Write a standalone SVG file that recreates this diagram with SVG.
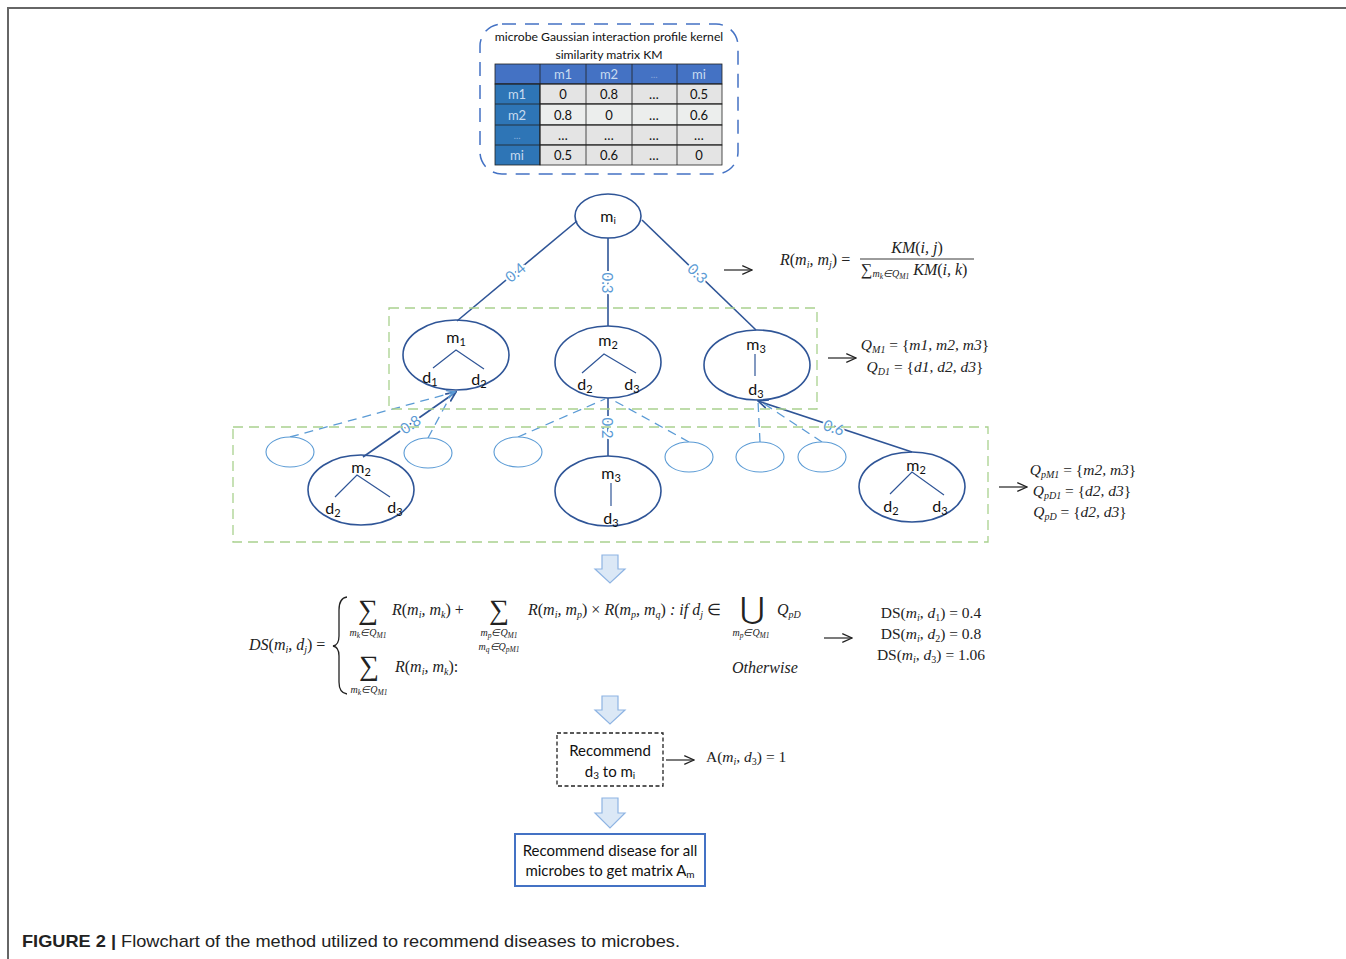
<svg xmlns="http://www.w3.org/2000/svg" width="1346" height="959" viewBox="0 0 1346 959">
<defs>
<style>
.s{font-family:Lato,"Liberation Sans",sans-serif;fill:#111}
.m{font-family:"Liberation Serif",serif;font-style:italic;fill:#222}
.r{font-family:"Liberation Serif",serif;font-style:normal;fill:#222}
.big{fill:none;stroke:#2f5597;stroke-width:1.6}
.sm{fill:#fff;stroke:#5b9bd5;stroke-width:1.1}
.e{stroke:#2f5597;stroke-width:1.6;fill:none}
.d{stroke:#5b9bd5;stroke-width:1.3;stroke-dasharray:9 6;fill:none}
.g{fill:none;stroke:#a9d18e;stroke-width:1.3;stroke-dasharray:10 6}
.lbl{font-family:Lato,"Liberation Sans",sans-serif;fill:#5b9bd5;font-size:15px;stroke:#fff;stroke-width:4;paint-order:stroke;dominant-baseline:central}
.tl{fill:none;stroke:#2f5597;stroke-width:1.2}
.cell{stroke:#222;stroke-width:0.8}
.ar{fill:none;stroke:#222;stroke-width:1.2}
.blk{fill:#dbe8f6;stroke:#8eb4e3;stroke-width:1.2}
.nt{font-size:16px}
</style>
<marker id="ah" viewBox="0 0 10 10" refX="9" refY="5" markerWidth="7" markerHeight="7" orient="auto"><path d="M0,1 L9,5 L0,9" fill="none" stroke="#5b9bd5" stroke-width="1.5"/></marker>
<marker id="ahd" viewBox="0 0 10 10" refX="9" refY="5" markerWidth="7" markerHeight="7" orient="auto"><path d="M0,1 L9,5 L0,9" fill="none" stroke="#2f5597" stroke-width="1.5"/></marker>
<marker id="blk" viewBox="0 0 10 10" refX="9" refY="5" markerWidth="9" markerHeight="9" orient="auto"><path d="M0,1 L9,5 L0,9" fill="none" stroke="#222" stroke-width="1.2"/></marker>
</defs>
<rect width="1346" height="959" fill="#fff"/>
<path d="M8,959 V8 H1346" fill="none" stroke="#666" stroke-width="2"/>

<g id="kmtable">
<rect x="480" y="24" width="258" height="150" rx="22" fill="none" stroke="#4472c4" stroke-width="1.5" stroke-dasharray="14 9"/>
<text class="s" x="609" y="41" font-size="12.2" text-anchor="middle">microbe Gaussian interaction profile kernel</text>
<text class="s" x="609" y="59" font-size="12.2" text-anchor="middle">similarity matrix KM</text>
<rect class="cell" x="495" y="64" width="227" height="20" fill="#4472c4"/>
<rect class="cell" x="495" y="84" width="45" height="81" fill="#2e75b6"/>
<rect class="cell" x="540" y="84" width="182" height="20" fill="#e4e4e4"/>
<rect class="cell" x="540" y="104" width="182" height="21" fill="#eceeed"/>
<rect class="cell" x="540" y="125" width="182" height="20" fill="#e4e4e4"/>
<rect class="cell" x="540" y="145" width="182" height="20" fill="#e4e4e4"/>
<path class="cell" d="M495,84H722M495,104H722M495,125H722M495,145H722M540,64V165M586,64V165M632,64V165M677,64V165" fill="none"/>
<g class="s" font-size="13" text-anchor="middle">
<text x="563" y="79" fill="#c9dcf0">m1</text><text x="609" y="79" fill="#c9dcf0">m2</text><text x="654" y="78" fill="#8faadc" font-size="9">…</text><text x="699" y="79" fill="#c9dcf0">mi</text>
<text x="517" y="99" fill="#c9dcf0">m1</text><text x="517" y="120" fill="#c9dcf0">m2</text><text x="517" y="139" fill="#8fb4e0" font-size="9">…</text><text x="517" y="160" fill="#c9dcf0">mi</text>
<text x="563" y="99">0</text><text x="609" y="99">0.8</text><text x="654" y="99">…</text><text x="699" y="99">0.5</text>
<text x="563" y="120">0.8</text><text x="609" y="120">0</text><text x="654" y="120">…</text><text x="699" y="120">0.6</text>
<text x="563" y="140">…</text><text x="609" y="140">…</text><text x="654" y="140">…</text><text x="699" y="140">…</text>
<text x="563" y="160">0.5</text><text x="609" y="160">0.6</text><text x="654" y="160">…</text><text x="699" y="160">0</text>
</g>
</g>

<g id="connectors">
<line class="e" x1="577" y1="221" x2="457" y2="321"/>
<line class="e" x1="608" y1="238" x2="608" y2="326"/>
<line class="e" x1="642" y1="220" x2="756" y2="330"/>
<line class="e" x1="363" y1="457" x2="456" y2="392" marker-end="url(#ahd)"/>
<line class="e" x1="608" y1="456" x2="608" y2="398"/>
<line class="e" x1="912" y1="452" x2="758" y2="401" marker-end="url(#ahd)"/>
<line class="d" x1="290" y1="437" x2="455" y2="392" marker-end="url(#ah)"/>
<line class="d" x1="428" y1="438" x2="452" y2="393"/>
<line class="d" x1="518" y1="437" x2="605" y2="399"/>
<line class="d" x1="689" y1="442" x2="611" y2="399"/>
<line class="d" x1="760" y1="442" x2="758" y2="401"/>
<line class="d" x1="822" y1="442" x2="760" y2="401"/>
<text class="lbl" transform="translate(515,272) rotate(-40)" text-anchor="middle">0.4</text>
<text class="lbl" transform="translate(608,283) rotate(90)" text-anchor="middle">0.3</text>
<text class="lbl" transform="translate(698,273) rotate(44)" text-anchor="middle">0.3</text>
<text class="lbl" transform="translate(410,424) rotate(-35)" text-anchor="middle">0.8</text>
<text class="lbl" transform="translate(608,428) rotate(90)" text-anchor="middle">0.2</text>
<text class="lbl" transform="translate(834,427) rotate(18)" text-anchor="middle">0.6</text>
</g>

<rect class="g" x="389" y="308" width="428" height="101"/>
<rect class="g" x="233" y="427" width="755" height="115"/>

<g id="mi"><ellipse class="big" cx="608" cy="216" rx="33" ry="22" fill="#fff"/>
<text class="s nt" x="608" y="222" text-anchor="middle">m<tspan font-size="10" dy="2">i</tspan></text></g>

<g id="m1"><ellipse class="big" cx="456" cy="355" rx="53" ry="35"/>
<text class="s nt" x="456" y="343" text-anchor="middle">m<tspan font-size="11" dy="3">1</tspan></text>
<path class="tl" d="M433,368 L456,350 L484,369"/>
<text class="s nt" x="430" y="383" text-anchor="middle">d<tspan font-size="11" dy="3">1</tspan></text>
<text class="s nt" x="479" y="385" text-anchor="middle">d<tspan font-size="11" dy="3">2</tspan></text></g>

<g id="m2"><ellipse class="big" cx="608" cy="362" rx="53" ry="36"/>
<text class="s nt" x="608" y="346" text-anchor="middle">m<tspan font-size="11" dy="3">2</tspan></text>
<path class="tl" d="M582,373 L604,354 L636,373"/>
<text class="s nt" x="585" y="390" text-anchor="middle">d<tspan font-size="11" dy="3">2</tspan></text>
<text class="s nt" x="632" y="390" text-anchor="middle">d<tspan font-size="11" dy="3">3</tspan></text></g>

<g id="m3"><ellipse class="big" cx="757" cy="365" rx="53" ry="35"/>
<text class="s nt" x="756" y="350" text-anchor="middle">m<tspan font-size="11" dy="3">3</tspan></text>
<line class="tl" x1="755" y1="354" x2="755" y2="376"/>
<text class="s nt" x="756" y="395" text-anchor="middle">d<tspan font-size="11" dy="3">3</tspan></text></g>

<g id="small1"><ellipse class="sm" cx="290" cy="452" rx="24" ry="15"/></g>
<g id="small2"><ellipse class="sm" cx="428" cy="453" rx="24" ry="15"/></g>
<g id="small3"><ellipse class="sm" cx="518" cy="452" rx="24" ry="15"/></g>
<g id="small4"><ellipse class="sm" cx="689" cy="457" rx="24" ry="15"/></g>
<g id="small5"><ellipse class="sm" cx="760" cy="457" rx="24" ry="15"/></g>
<g id="small6"><ellipse class="sm" cx="822" cy="457" rx="24" ry="15"/></g>

<g id="m2left"><ellipse class="big" cx="361" cy="490" rx="53" ry="35"/>
<text class="s nt" x="361" y="473" text-anchor="middle">m<tspan font-size="11" dy="3">2</tspan></text>
<path class="tl" d="M335,497 L357,475 L390,497"/>
<text class="s nt" x="333" y="514" text-anchor="middle">d<tspan font-size="11" dy="3">2</tspan></text>
<text class="s nt" x="395" y="513" text-anchor="middle">d<tspan font-size="11" dy="3">3</tspan></text></g>

<g id="m3mid"><ellipse class="big" cx="608" cy="491" rx="53" ry="35"/>
<text class="s nt" x="611" y="479" text-anchor="middle">m<tspan font-size="11" dy="3">3</tspan></text>
<line class="tl" x1="611" y1="483" x2="611" y2="506"/>
<text class="s nt" x="611" y="524" text-anchor="middle">d<tspan font-size="11" dy="3">3</tspan></text></g>

<g id="m2right"><ellipse class="big" cx="912" cy="487" rx="53" ry="35"/>
<text class="s nt" x="916" y="471" text-anchor="middle">m<tspan font-size="11" dy="3">2</tspan></text>
<path class="tl" d="M890,494 L912,472 L944,495"/>
<text class="s nt" x="891" y="512" text-anchor="middle">d<tspan font-size="11" dy="3">2</tspan></text>
<text class="s nt" x="940" y="512" text-anchor="middle">d<tspan font-size="11" dy="3">3</tspan></text></g>

<g id="rarrows">
<line class="ar" x1="724" y1="270" x2="752" y2="270" marker-end="url(#blk)"/>
<line class="ar" x1="828" y1="358" x2="856" y2="358" marker-end="url(#blk)"/>
<line class="ar" x1="999" y1="487" x2="1027" y2="487" marker-end="url(#blk)"/>
<line class="ar" x1="824" y1="638" x2="852" y2="638" marker-end="url(#blk)"/>
<line class="ar" x1="666" y1="760" x2="694" y2="760" marker-end="url(#blk)"/>
</g>

<g id="formulaR" font-size="16">
<text class="m" x="780" y="265">R<tspan class="r">(</tspan>m<tspan font-size="10" dy="3">i</tspan><tspan dy="-3">, m</tspan><tspan font-size="10" dy="3">j</tspan><tspan class="r" dy="-3">) =</tspan></text>
<line x1="860" y1="259" x2="974" y2="259" stroke="#222" stroke-width="0.9"/>
<text class="m" x="917" y="253" text-anchor="middle">KM<tspan class="r">(</tspan>i, j<tspan class="r">)</tspan></text>
<text class="m" x="861" y="275"><tspan class="r">∑</tspan><tspan font-size="10" dy="2">m</tspan><tspan font-size="7.5" dy="2">k</tspan><tspan font-size="10" dy="-2">∈Q</tspan><tspan font-size="7.5" dy="2">M1</tspan><tspan dy="-4"> KM</tspan><tspan class="r">(</tspan>i, k<tspan class="r">)</tspan></text>
</g>

<g id="setsQ" font-size="15.5" text-anchor="middle">
<text class="m" x="925" y="350">Q<tspan font-size="10" dy="3">M1</tspan><tspan class="r" dy="-3"> = {</tspan>m1, m2, m3<tspan class="r">}</tspan></text>
<text class="m" x="925" y="372">Q<tspan font-size="10" dy="3">D1</tspan><tspan class="r" dy="-3"> = {</tspan>d1, d2, d3<tspan class="r">}</tspan></text>
</g>

<g id="setsP" font-size="15.5" text-anchor="middle">
<text class="m" x="1083" y="475">Q<tspan font-size="10" dy="3">pM1</tspan><tspan class="r" dy="-3"> = {</tspan>m2, m3<tspan class="r">}</tspan></text>
<text class="m" x="1082" y="496">Q<tspan font-size="10" dy="3">pD1</tspan><tspan class="r" dy="-3"> = {</tspan>d2, d3<tspan class="r">}</tspan></text>
<text class="m" x="1080" y="517">Q<tspan font-size="10" dy="3">pD</tspan><tspan class="r" dy="-3"> = {</tspan>d2, d3<tspan class="r">}</tspan></text>
</g>

<g id="blockarrows">
<path class="blk" d="M602,555 H618 V569 H625 L610,583 L595,569 H602 Z"/>
<path class="blk" d="M602,696 H618 V710 H625 L610,724 L595,710 H602 Z"/>
<path class="blk" d="M602,798 H618 V813 H625 L610,828 L595,813 H602 Z"/>
</g>

<g id="formulaDS" font-size="16">
<text class="m" x="249" y="650">DS<tspan class="r">(</tspan>m<tspan font-size="10" dy="3">i</tspan><tspan dy="-3">, d</tspan><tspan font-size="10" dy="3">j</tspan><tspan class="r" dy="-3">) =</tspan></text>
<path d="M347,597 Q339,598 339,610 V636 Q339,645 333,646 Q339,647 339,656 V682 Q339,693 347,694" fill="none" stroke="#222" stroke-width="1.3"/>
<text class="r" x="368" y="619" font-size="28" text-anchor="middle">∑</text>
<text class="m" x="368" y="636" font-size="10" text-anchor="middle">m<tspan font-size="7.5" dy="2">k</tspan><tspan dy="-2">∈Q</tspan><tspan font-size="7.5" dy="2">M1</tspan></text>
<text class="m" x="392" y="615">R<tspan class="r">(</tspan>m<tspan font-size="10" dy="3">i</tspan><tspan dy="-3">, m</tspan><tspan font-size="10" dy="3">k</tspan><tspan class="r" dy="-3">) +</tspan></text>
<text class="r" x="499" y="619" font-size="28" text-anchor="middle">∑</text>
<text class="m" x="499" y="636" font-size="10" text-anchor="middle">m<tspan font-size="7.5" dy="2">p</tspan><tspan dy="-2">∈Q</tspan><tspan font-size="7.5" dy="2">M1</tspan></text>
<text class="m" x="499" y="650" font-size="10" text-anchor="middle">m<tspan font-size="7.5" dy="2">q</tspan><tspan dy="-2">∈Q</tspan><tspan font-size="7.5" dy="2">pM1</tspan></text>
<text class="m" x="528" y="615">R<tspan class="r">(</tspan>m<tspan font-size="10" dy="3">i</tspan><tspan dy="-3">, m</tspan><tspan font-size="10" dy="3">p</tspan><tspan class="r" dy="-3">) × </tspan>R<tspan class="r">(</tspan>m<tspan font-size="10" dy="3">p</tspan><tspan dy="-3">, m</tspan><tspan font-size="10" dy="3">q</tspan><tspan class="r" dy="-3">)</tspan> : if d<tspan font-size="10" dy="3">j</tspan><tspan class="r" dy="-3"> ∈</tspan></text>
<text class="r" x="752" y="619" font-size="30" text-anchor="middle">⋃</text>
<text class="m" x="751" y="636" font-size="10" text-anchor="middle">m<tspan font-size="7.5" dy="2">p</tspan><tspan dy="-2">∈Q</tspan><tspan font-size="7.5" dy="2">M1</tspan></text>
<text class="m" x="777" y="615">Q<tspan font-size="10" dy="3">pD</tspan></text>
<text class="r" x="369" y="675" font-size="28" text-anchor="middle">∑</text>
<text class="m" x="369" y="693" font-size="10" text-anchor="middle">m<tspan font-size="7.5" dy="2">k</tspan><tspan dy="-2">∈Q</tspan><tspan font-size="7.5" dy="2">M1</tspan></text>
<text class="m" x="395" y="672">R<tspan class="r">(</tspan>m<tspan font-size="10" dy="3">i</tspan><tspan dy="-3">, m</tspan><tspan font-size="10" dy="3">k</tspan><tspan class="r" dy="-3">):</tspan></text>
<text class="m" x="732" y="673">Otherwise</text>
</g>

<g id="dsresults" font-size="15.5" text-anchor="middle">
<text class="r" x="931" y="618">DS(<tspan class="m">m</tspan><tspan class="m" font-size="10" dy="3">i</tspan><tspan dy="-3">, </tspan><tspan class="m">d</tspan><tspan font-size="10" dy="3">1</tspan><tspan dy="-3">) = 0.4</tspan></text>
<text class="r" x="931" y="639">DS(<tspan class="m">m</tspan><tspan class="m" font-size="10" dy="3">i</tspan><tspan dy="-3">, </tspan><tspan class="m">d</tspan><tspan font-size="10" dy="3">2</tspan><tspan dy="-3">) = 0.8</tspan></text>
<text class="r" x="931" y="660">DS(<tspan class="m">m</tspan><tspan class="m" font-size="10" dy="3">i</tspan><tspan dy="-3">, </tspan><tspan class="m">d</tspan><tspan font-size="10" dy="3">3</tspan><tspan dy="-3">) = 1.06</tspan></text>
</g>

<g id="recommend">
<rect x="557" y="733" width="106" height="53" fill="#fff" stroke="#222" stroke-width="1.3" stroke-dasharray="4 2.5"/>
<text class="s" x="610" y="756" font-size="15" text-anchor="middle">Recommend</text>
<text class="s" x="610" y="777" font-size="15" text-anchor="middle">d<tspan font-size="10" dy="2">3</tspan><tspan dy="-2"> to m</tspan><tspan font-size="10" dy="2">i</tspan></text>
</g>
<text class="r" x="706" y="762" font-size="15.5">A(<tspan class="m">m</tspan><tspan class="m" font-size="10" dy="3">i</tspan><tspan dy="-3">, </tspan><tspan class="m">d</tspan><tspan font-size="10" dy="3">3</tspan><tspan dy="-3">) = 1</tspan></text>

<g id="final">
<rect x="515" y="834" width="190" height="52" fill="#fff" stroke="#4472c4" stroke-width="2"/>
<text class="s" x="610" y="856" font-size="15" text-anchor="middle">Recommend disease for all</text>
<text class="s" x="610" y="876" font-size="15" text-anchor="middle">microbes to get matrix A<tspan font-size="10" dy="2">m</tspan></text>
</g>

<text x="22" y="947" font-family="'Liberation Sans',Arial,sans-serif" font-size="17" fill="#222" textLength="658" lengthAdjust="spacingAndGlyphs"><tspan font-weight="bold">FIGURE 2 |</tspan> Flowchart of the method utilized to recommend diseases to microbes.</text>
</svg>
